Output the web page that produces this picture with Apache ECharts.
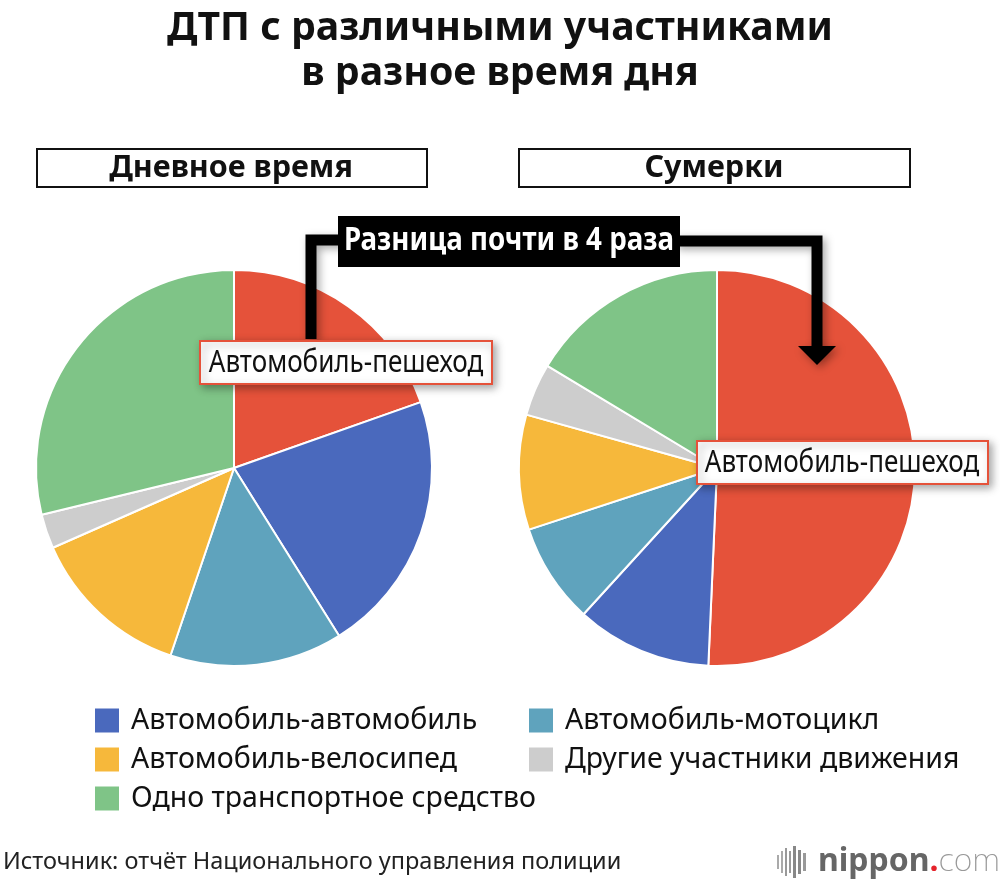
<!DOCTYPE html>
<html>
<head>
<meta charset="utf-8">
<script src="https://cdn.jsdelivr.net/npm/echarts@6/dist/echarts.min.js"></script>
<style>
  html, body { margin: 0; padding: 0; background: #fff; }
  #chart { width: 1000px; height: 884px; }
</style>
</head>
<body>
<div id="chart"></div>
<script>
// категории (порядок секторов по часовой стрелке от 12 часов)
const categories = [
  'Автомобиль-пешеход',
  'Автомобиль-автомобиль',
  'Автомобиль-мотоцикл',
  'Автомобиль-велосипед',
  'Другие участники движения',
  'Одно транспортное средство'
]
const colors = ['#E5523A', '#4A69BD', '#5FA3BD', '#F6B83B', '#CDCDCD', '#7FC487']

// доли, % (оценка по рисунку)
const dayValues = [19.6, 21.5, 14.1, 13.2, 2.8, 28.8]
const duskValues = [50.8, 11.1, 8.2, 9.4, 4.3, 16.4]

const legendLeft = ['Автомобиль-автомобиль', 'Автомобиль-велосипед', 'Одно транспортное средство']
const legendRight = ['Автомобиль-мотоцикл', 'Другие участники движения']

const FONT = 'Noto Sans'
const shadow = { shadowBlur: 8, shadowOffsetX: 3, shadowOffsetY: 3, shadowColor: 'rgba(0,0,0,0.35)' }

function pieData(values) {
  return values.map((v, i) => ({ name: categories[i], value: v, itemStyle: { color: colors[i] } }))
}

function pieSeries(name, values, cx) {
  return {
    name: name,
    type: 'pie',
    center: [cx, 468],
    radius: 198,
    startAngle: 90,
    clockwise: true,
    label: { show: false },
    labelLine: { show: false },
    emphasis: { disabled: true },
    itemStyle: { borderColor: '#fff', borderWidth: 2 },
    data: pieData(values)
  }
}

function txt(x, y, text, size, opts) {
  opts = opts || {}
  return {
    type: 'text',
    x: x,
    y: y,
    scaleX: opts.scaleX || 1,
    z: 20,
    style: {
      text: text,
      fill: opts.fill || '#111',
      fontSize: size,
      fontFamily: FONT,
      fontWeight: opts.bold ? 'bold' : 'normal',
      textAlign: opts.align || 'center',
      textVerticalAlign: 'middle'
    }
  }
}

const legendText = { fontSize: 28.5, lineHeight: 26, fontFamily: FONT, color: '#111', padding: [0, 0, 0, 6] }

const chart = echarts.init(document.getElementById('chart'))
chart.setOption({
  animation: false,
  backgroundColor: '#fff',
  legend: [
    {
      data: legendLeft, left: 93, top: 706, orient: 'vertical',
      itemWidth: 26, itemHeight: 26, itemGap: 10, icon: 'rect',
      selectedMode: false, textStyle: legendText, padding: 0
    },
    {
      data: legendRight, left: 527, top: 706, orient: 'vertical',
      itemWidth: 26, itemHeight: 26, itemGap: 10, icon: 'rect',
      selectedMode: false, textStyle: legendText, padding: 0
    }
  ],
  series: [
    pieSeries('Дневное время', dayValues, 234),
    pieSeries('Сумерки', duskValues, 717)
  ],
  graphic: [
    // заголовок
    txt(500, 29, 'ДТП с различными участниками', 40, { bold: true, scaleX: 0.98 }),
    txt(500, 74, 'в разное время дня', 40, { bold: true, scaleX: 0.98 }),

    // подписи панелей
    { type: 'rect', shape: { x: 37, y: 149, width: 390, height: 38 }, style: { fill: '#fff', stroke: '#111', lineWidth: 2 } },
    { type: 'rect', shape: { x: 519, y: 149, width: 391, height: 38 }, style: { fill: '#fff', stroke: '#111', lineWidth: 2 } },
    txt(231, 168, 'Дневное время', 30.5, { bold: true }),
    txt(714, 168, 'Сумерки', 30.5, { bold: true }),

    // выноска
    {
      type: 'polyline', z: 10,
      shape: { points: [[311, 339], [311, 240], [345, 240]] },
      style: Object.assign({ stroke: '#000', lineWidth: 11, fill: null, lineJoin: 'miter' }, shadow)
    },
    {
      type: 'polyline', z: 10,
      shape: { points: [[675, 241], [817, 241], [817, 350]] },
      style: Object.assign({ stroke: '#000', lineWidth: 11, fill: null, lineJoin: 'miter' }, shadow)
    },
    {
      type: 'polygon', z: 10,
      shape: { points: [[798, 346], [836, 346], [817, 365]] },
      style: Object.assign({ fill: '#000' }, shadow)
    },
    { type: 'rect', z: 11, shape: { x: 338, y: 216, width: 342, height: 51 }, style: { fill: '#000' } },
    txt(509, 241, 'Разница почти в 4 раза', 33, { bold: true, fill: '#fff', scaleX: 0.84 }),

    // метки «Автомобиль-пешеход»
    { type: 'rect', z: 15, shape: { x: 200, y: 341, width: 292, height: 43 }, style: Object.assign({ fill: '#fff', stroke: '#E5523A', lineWidth: 2 }, shadow) },
    txt(346, 363, 'Автомобиль-пешеход', 31, { scaleX: 0.84 }),
    { type: 'rect', z: 15, shape: { x: 697, y: 441, width: 291, height: 43 }, style: Object.assign({ fill: '#fff', stroke: '#E5523A', lineWidth: 2 }, shadow) },
    txt(842, 463, 'Автомобиль-пешеход', 31, { scaleX: 0.84 }),

    // источник
    txt(3, 862, 'Источник: отчёт Национального управления полиции', 23.5, { align: 'left', fill: '#222' }),

    // логотип
    { type: 'rect', shape: { x: 777, y: 855, width: 2, height: 14 }, style: { fill: '#aaa' } },
    { type: 'rect', shape: { x: 781, y: 851, width: 2, height: 22 }, style: { fill: '#aaa' } },
    { type: 'rect', shape: { x: 785, y: 848, width: 2, height: 28 }, style: { fill: '#999' } },
    { type: 'rect', shape: { x: 789, y: 851, width: 2, height: 22 }, style: { fill: '#999' } },
    { type: 'rect', shape: { x: 793, y: 846, width: 3, height: 32 }, style: { fill: '#888' } },
    { type: 'rect', shape: { x: 798, y: 850, width: 3, height: 24 }, style: { fill: '#888' } },
    { type: 'rect', shape: { x: 803, y: 853, width: 3, height: 18 }, style: { fill: '#999' } },
    {
      type: 'text', x: 818, y: 862, z: 20,
      style: {
        text: '{a|nippon}{b|.}{c|com}',
        textVerticalAlign: 'middle',
        rich: {
          a: { fontSize: 32, fontFamily: FONT, fontWeight: 'bold', fill: '#666' },
          b: { fontSize: 32, fontFamily: FONT, fontWeight: 'bold', fill: '#E5232B' },
          c: { fontSize: 32, fontFamily: FONT, fontWeight: 200, fill: '#999' }
        }
      }
    }
  ]
})
</script>
</body>
</html>
